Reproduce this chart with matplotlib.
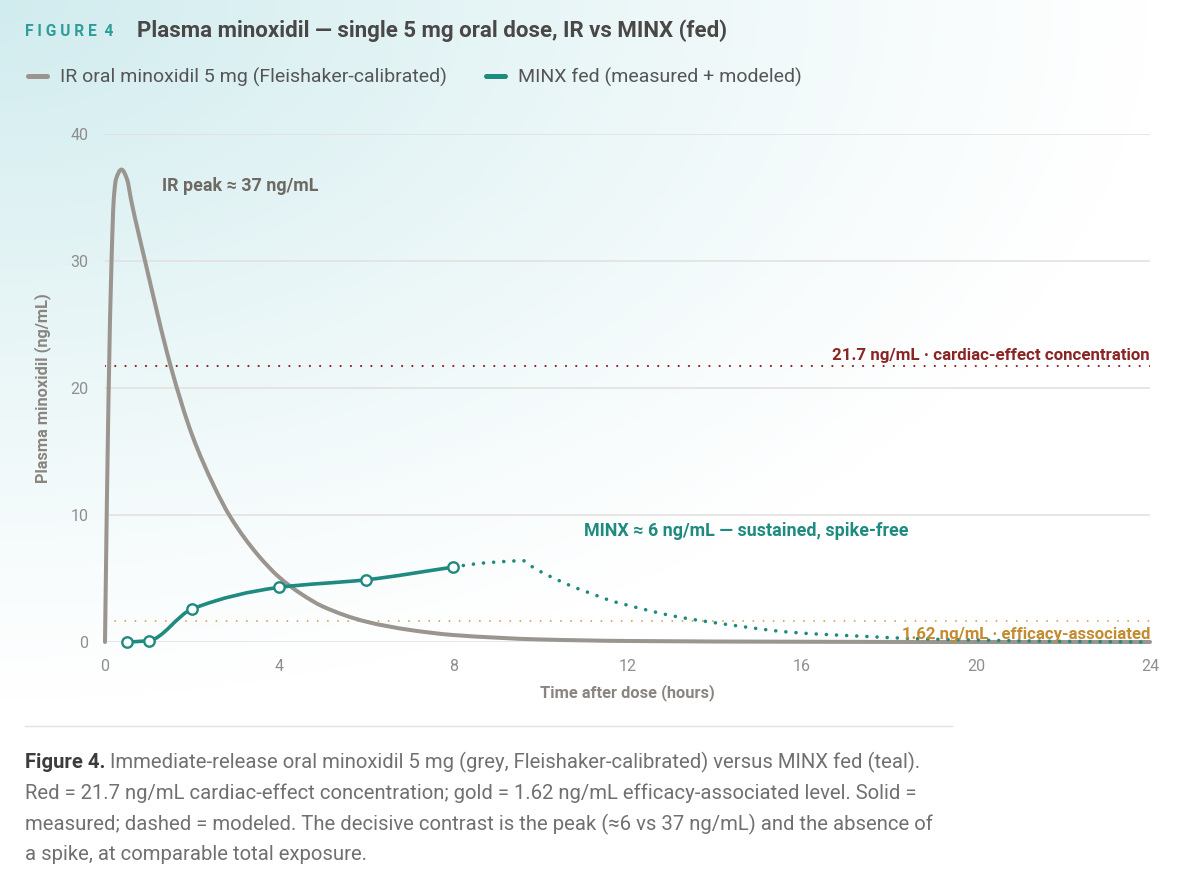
import matplotlib
matplotlib.use("Agg")
import matplotlib.pyplot as plt
import numpy as np
from matplotlib.lines import Line2D
from matplotlib.patches import PathPatch
from matplotlib.path import Path

plt.rcParams["font.family"] = ["Roboto", "DejaVu Sans"]

# --- data --------------------------------------------------------------
# IR oral minoxidil 5 mg (Fleishaker-calibrated), hours / ng/mL
ir_time = [0, 0.08, 0.15, 0.2, 0.25, 0.38, 0.51, 0.6, 0.92, 1.51, 2.0, 2.5,
           2.87, 3.5, 4.0, 4.5, 5.0, 6.0, 7.0, 8.0, 10.0, 12.0, 16.0, 20.0,
           24.0]
ir_conc = [0, 19.1, 30.0, 34.8, 36.4, 37.2, 36.4, 34.8, 30.0, 21.7, 16.3, 12.3,
           9.9, 6.9, 5.1, 3.8, 2.8, 1.6, 0.95, 0.55, 0.2, 0.08, 0.02, 0.0,
           0.0]

# MINX fed, measured
minx_time = [0.5, 1, 2, 4, 6, 8]
minx_conc = [0.0, 0.1, 2.6, 4.3, 4.9, 5.9]

# MINX fed, modeled continuation
model_time = [8, 8.5, 9, 9.6, 9.8, 10, 10.4, 10.8, 11.2, 11.6, 12, 12.5, 13,
              13.5, 14, 14.5, 15, 15.6, 16.5, 17.4, 18.4, 20, 22, 24]
model_conc = [5.9, 6.15, 6.3, 6.4, 5.95, 5.55, 4.88, 4.28, 3.78, 3.27, 2.9,
              2.47, 2.08, 1.78, 1.52, 1.28, 1.05, 0.81, 0.6, 0.45, 0.29, 0.15,
              0.05, 0.0]

cardiac_level = 21.7
efficacy_level = 1.62

x_ticks = [0, 4, 8, 12, 16, 20, 24]
y_ticks = [0, 10, 20, 30, 40]

GREY = "#9b9590"
TEAL = "#1f8a80"
RED = "#8b2525"
GOLD = "#c48b2f"
LABEL = "#8a8580"


def smooth_path(x, y):
    # monotone cubic through the points, as a bezier path
    x = np.asarray(x, float)
    y = np.asarray(y, float)
    h = np.diff(x)
    d = np.diff(y) / h
    m = np.zeros_like(y)
    m[0], m[-1] = d[0], d[-1]
    for i in range(1, len(x) - 1):
        if d[i - 1] * d[i] <= 0:
            m[i] = 0
        else:
            w1 = 2 * h[i] + h[i - 1]
            w2 = h[i] + 2 * h[i - 1]
            m[i] = (w1 + w2) / (w1 / d[i - 1] + w2 / d[i])
    verts = [(x[0], y[0])]
    codes = [Path.MOVETO]
    for i in range(len(h)):
        verts += [(x[i] + h[i] / 3, y[i] + m[i] * h[i] / 3),
                  (x[i + 1] - h[i] / 3, y[i + 1] - m[i + 1] * h[i] / 3),
                  (x[i + 1], y[i + 1])]
        codes += [Path.CURVE4] * 3
    return Path(verts, codes)


fig = plt.figure(figsize=(12, 8.69), dpi=100)

# soft teal wash from the top-left corner
bg = fig.add_axes([0, 0, 1, 1], zorder=-10)
gx, gy = np.meshgrid(np.linspace(0, 1200, 300), np.linspace(0, 869, 220))
w = np.clip(1 - np.sqrt((gx / 1150) ** 2 + (gy / 700) ** 2), 0, 1) ** 1.1
teal_wash = np.array([0.82, 0.925, 0.935])
img = 1 - w[..., None] * (1 - teal_wash)
bg.imshow(img, extent=[0, 1, 0, 1], aspect="auto", origin="upper")
bg.axis("off")

ax = fig.add_axes([105 / 1200, 1 - 642 / 869, 1045 / 1200, 508 / 869])
ax.patch.set_alpha(0)
ax.set_xlim(0, 24)
ax.set_ylim(0, 40)
for s in ax.spines.values():
    s.set_visible(False)
ax.set_xticks(x_ticks)
ax.set_yticks(y_ticks)
ax.tick_params(length=0, labelsize=11.5, labelcolor="#8e8e8e", pad=12)
ax.grid(axis="y", color="#e2dfdd", lw=1.1, zorder=0)
ax.grid(axis="x", visible=False)
ax.set_axisbelow(True)

# reference levels
ax.axhline(cardiac_level, color=RED, lw=1.6, ls=(0, (0.01, 4.6)),
           dash_capstyle="round", zorder=1)
ax.axhline(efficacy_level, color="#d3a45a", lw=1.4, ls=(0, (0.01, 5.2)),
           dash_capstyle="round", zorder=1)

# IR curve
ax.add_patch(PathPatch(smooth_path(ir_time, ir_conc), fill=False, ec=GREY,
                       lw=2.9, capstyle="round", joinstyle="round",
                       zorder=3, clip_on=False))

# MINX modeled (dotted) and measured (solid)
ax.add_patch(PathPatch(smooth_path(model_time, model_conc), fill=False, ec=TEAL,
                       lw=2.6, ls=(0, (0.01, 2.8)), capstyle="round",
                       zorder=4, clip_on=False))
ax.add_patch(PathPatch(smooth_path(minx_time, minx_conc), fill=False, ec=TEAL,
                       lw=2.6, capstyle="round", joinstyle="round",
                       zorder=5, clip_on=False))
ax.plot(minx_time, minx_conc, "o", ms=7.5, mfc="white", mec=TEAL, mew=1.7,
        zorder=6, clip_on=False)

# annotations
ax.text(1.31, 35.9, "IR peak ≈ 37 ng/mL", color="#6e6964", fontsize=12.9,
        fontweight="bold", ha="left", va="center")
ax.text(11.0, 8.74, "MINX ≈ 6 ng/mL — sustained, spike-free", color=TEAL,
        fontsize=12.9, fontweight="bold", ha="left", va="center")
ax.text(24, cardiac_level + 0.3, "21.7 ng/mL · cardiac-effect concentration",
        color=RED, fontsize=12.2, fontweight="bold", ha="right", va="bottom")
ax.text(24, 0.6, "1.62 ng/mL · efficacy-associated", color=GOLD,
        fontsize=12.1, fontweight="bold", ha="right", va="center", zorder=7)

ax.set_xlabel("Time after dose (hours)", fontsize=11.8, fontweight="bold",
              color=LABEL)
ax.set_ylabel("Plasma minoxidil (ng/mL)", fontsize=11.8, fontweight="bold",
              color=LABEL)
ax.xaxis.set_label_coords(0.5, -0.1)
ax.xaxis.label.set_va("center")
ax.yaxis.set_label_coords(-0.06, 0.5)
ax.yaxis.label.set_va("center")

# legend
handles = [Line2D([], [], color=GREY, lw=3.6, solid_capstyle="round"),
           Line2D([], [], color=TEAL, lw=3.6, solid_capstyle="round")]
fig.legend(handles, ["IR oral minoxidil 5 mg (Fleishaker-calibrated)",
                     "MINX fed (measured + modeled)"],
           loc="center left", bbox_to_anchor=(28 / 1200, 1 - 77 / 869),
           ncol=2, frameon=False, fontsize=14, labelcolor="#555555",
           handlelength=1.0, handletextpad=0.65, columnspacing=2.0,
           borderpad=0, borderaxespad=0)

# header
fig.text(25 / 1200, 1 - 31 / 869, "F I G U R E  4", color="#2e9c98",
         fontsize=11.2, fontweight="bold", ha="left", va="center")
fig.text(137 / 1200, 1 - 31 / 869,
         "Plasma minoxidil — single 5 mg oral dose, IR vs MINX (fed)",
         color="#4a4846", fontsize=16, fontweight="bold", ha="left", va="center")

# separator and caption
fig.add_artist(Line2D([25 / 1200, 952 / 1200], [1 - 726 / 869] * 2,
                      color="#e2e2e2", lw=1))
cap_lines = [
    "Immediate-release oral minoxidil 5 mg (grey, Fleishaker-calibrated) versus MINX fed (teal).",
    "Red = 21.7 ng/mL cardiac-effect concentration; gold = 1.62 ng/mL efficacy-associated level. Solid =",
    "measured; dashed = modeled. The decisive contrast is the peak (≈6 vs 37 ng/mL) and the absence of",
    "a spike, at comparable total exposure.",
]
cap_y = [762, 793, 824, 854]
head = fig.text(25 / 1200, 1 - cap_y[0] / 869, "Figure 4.", color="#3c3c3c",
                fontsize=14.6, fontweight="bold", ha="left", va="center")
renderer = fig.canvas.get_renderer()
bb = head.get_window_extent(renderer=renderer)
x_after = fig.transFigure.inverted().transform((bb.x1, bb.y0))[0] + 5 / 1200
for i, (line, yy) in enumerate(zip(cap_lines, cap_y)):
    fig.text(x_after if i == 0 else 25 / 1200, 1 - yy / 869, line,
             color="#707070", fontsize=14.6, ha="left", va="center")

fig.savefig("out.png", dpi=100)
